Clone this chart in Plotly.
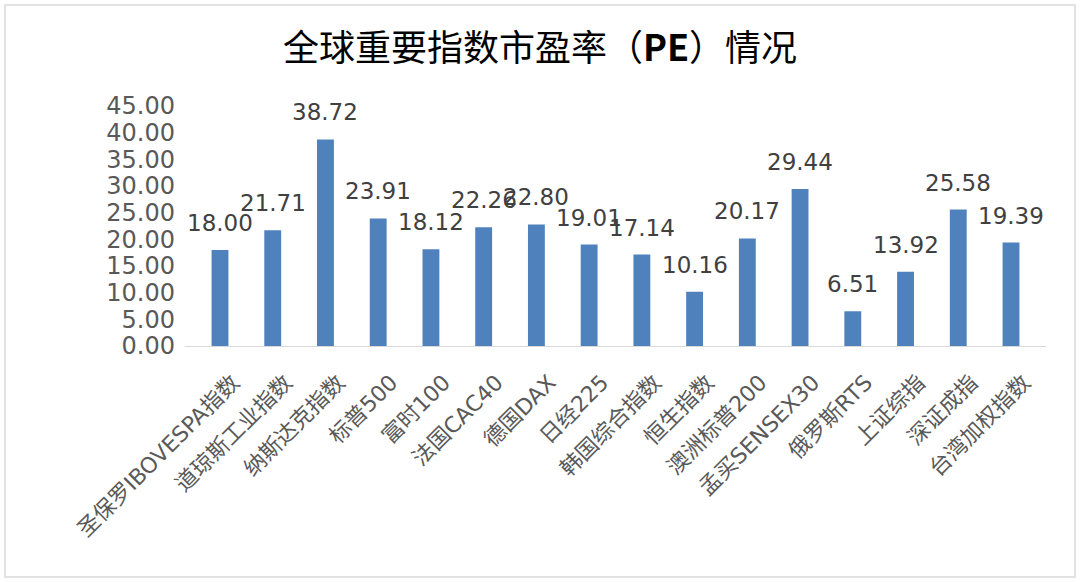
import plotly.graph_objects as go

categories = ["圣保罗IBOVESPA指数", "道琼斯工业指数", "纳斯达克指数", "标普500", "富时100",
              "法国CAC40", "德国DAX", "日经225", "韩国综合指数", "恒生指数", "澳洲标普200",
              "孟买SENSEX30", "俄罗斯RTS", "上证综指", "深证成指", "台湾加权指数"]
pe_values = [18.00, 21.71, 38.72, 23.91, 18.12, 22.26, 22.80, 19.01, 17.14, 10.16, 20.17,
             29.44, 6.51, 13.92, 25.58, 19.39]
y_ticks = [0, 5, 10, 15, 20, 25, 30, 35, 40, 45]
title_text = "全球重要指数市盈率（<b>PE</b>）情况"

W, H = 1080, 582
ml, mr, mt, mb = 185, 34, 106, 236
pw, ph = W - ml - mr, H - mt - mb

fig = go.Figure()
fig.add_trace(go.Bar(x=categories, y=pe_values, marker_color="#4f81bd",
                     marker_line_width=0, width=0.32))

for c, v in zip(categories, pe_values):
    fig.add_annotation(x=c, y=v, text=f"{v:.2f}", showarrow=False, yshift=27,
                       font=dict(family="DejaVu Sans", size=23, color="#404040"))

# outer border
fig.add_shape(type="rect", xref="paper", yref="paper",
              x0=(5 - ml) / pw, x1=(1075 - ml) / pw,
              y0=(H - 577 - mb) / ph, y1=(H - 5 - mb) / ph,
              line=dict(color="#d9d9d9", width=1.5), fillcolor="rgba(0,0,0,0)", layer="below")

fig.update_layout(
    width=W, height=H,
    margin=dict(l=ml, r=mr, t=mt, b=mb, autoexpand=False),
    paper_bgcolor="white", plot_bgcolor="white",
    showlegend=False,
    title=dict(text=title_text, x=0.5, xref="container", xanchor="center",
               y=(H - 48) / H, yanchor="middle",
               font=dict(family="Noto Sans CJK SC", size=36, color="#000000")),
    xaxis=dict(tickangle=-45, showgrid=False, showline=True, linecolor="#d9d9d9",
               linewidth=1, ticks="", automargin=False,
               ticklabelshift=13, ticklabelstandoff=14,
               tickfont=dict(family="DejaVu Sans, Noto Sans CJK SC", size=22, color="#595959")),
    yaxis=dict(range=[0, 45], tickvals=y_ticks, ticktext=[f"{t:.2f}" for t in y_ticks],
               showgrid=False, zeroline=False, showline=False, ticks="", automargin=False,
               ticklabelstandoff=9,
               tickfont=dict(family="DejaVu Sans", size=24, color="#595959")),
)

fig.write_html("out.html", config={"displayModeBar": False},
               post_script="document.body.style.margin='0';document.body.style.overflow='hidden';")
